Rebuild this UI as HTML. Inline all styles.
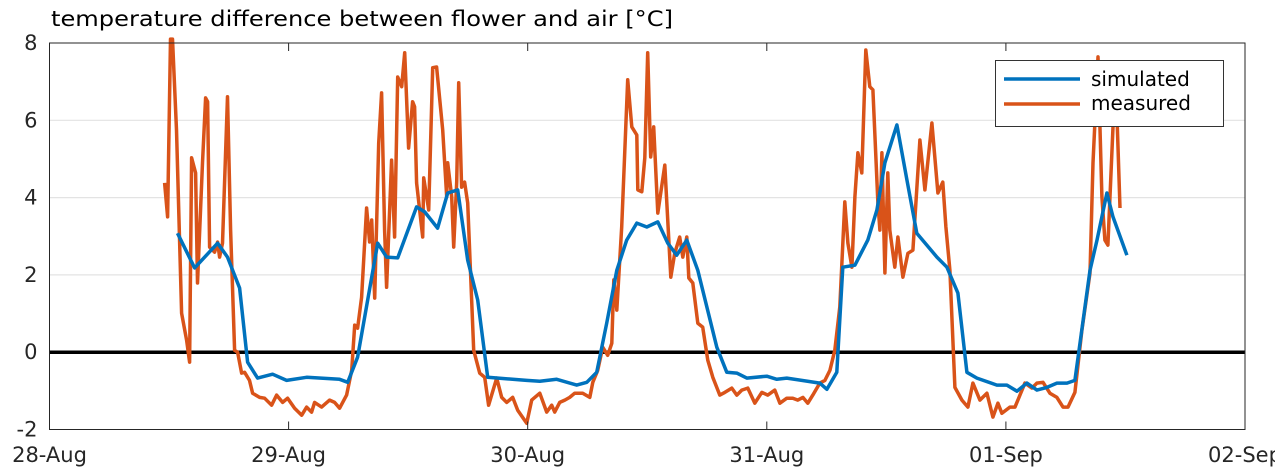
<!DOCTYPE html>
<html><head><meta charset="utf-8"><style>
html,body{margin:0;padding:0;background:#fff;}
svg{display:block;font-family:"DejaVu Sans","Liberation Sans",sans-serif;}
</style></head><body>
<svg id="chart" width="1275" height="474" viewBox="0 0 1275 474" xmlns="http://www.w3.org/2000/svg">
<text x="51" y="26" font-size="21" fill="#000" textLength="622" lengthAdjust="spacingAndGlyphs">temperature difference between flower and air [°C]</text>
<g id="grid"></g>
<g id="series"></g>
<g id="axes"></g>
<g>
<rect x="995.5" y="60.5" width="228" height="66" fill="#fff" stroke="#333" stroke-width="1"/>
<line x1="1004" y1="79" x2="1080" y2="79" stroke="#0072BD" stroke-width="3.5"/>
<text x="1091" y="86" font-size="20">simulated</text>
<line x1="1004" y1="104" x2="1080" y2="104" stroke="#D95319" stroke-width="3.5"/>
<text x="1091" y="110" font-size="20">measured</text>
</g>
</svg>
<script>
// hours since 28-Aug 00:00
const simHours=[12.85,14.56,16.87,17.87,19.08,19.88,20.89,22.39,23.80,25.81,29.12,29.93,30.93,32.94,33.84,34.95,36.85,37.66,38.96,39.97,40.97,41.98,42.98,43.98,47.90,49.21,50.91,52.92,53.93,54.93,55.93,56.94,57.94,58.95,59.95,61.06,62.06,62.96,63.97,65.07,66.98,67.98,68.99,69.99,72.00,73.00,74.01,77.32,78.03,79.03,79.63,80.84,82.14,83.05,83.85,85.06,86.06,87.06,89.07,90.08,91.18,92.09,93.09,95.10,96.10,97.11,98.11,99.11,100.12,101.12,102.13,102.93,104.44,105.14,106.14,106.75,108.15];
const simValues=[3.08,2.18,2.82,2.46,1.66,-0.26,-0.67,-0.57,-0.73,-0.65,-0.70,-0.78,-0.13,2.82,2.46,2.44,3.76,3.63,3.21,4.12,4.20,2.38,1.35,-0.65,-0.73,-0.75,-0.70,-0.85,-0.78,-0.52,0.75,2.12,2.90,3.34,3.24,3.37,2.82,2.51,2.90,2.12,0.13,-0.52,-0.54,-0.67,-0.62,-0.70,-0.67,-0.80,-0.96,-0.52,2.20,2.25,2.90,3.68,4.90,5.88,4.46,3.08,2.46,2.20,1.53,-0.52,-0.67,-0.85,-0.85,-1.01,-0.80,-0.98,-0.91,-0.80,-0.80,-0.73,2.12,2.90,4.12,3.50,2.51];
const measHours=[11.55,11.85,12.15,12.35,12.75,13.26,13.76,14.06,14.26,14.66,14.86,15.36,15.67,15.87,16.07,16.57,16.87,17.07,17.37,17.87,18.18,18.58,18.88,19.28,19.58,20.08,20.39,21.09,21.59,22.29,22.80,23.40,23.90,24.60,25.31,25.81,26.31,26.61,27.31,28.12,28.62,29.12,29.82,30.33,30.63,30.93,31.33,31.83,32.13,32.34,32.64,33.04,33.34,33.64,33.84,34.34,34.64,34.95,35.35,35.65,36.05,36.45,36.65,36.85,37.46,37.56,38.06,38.46,38.86,39.47,39.87,39.97,40.37,40.57,40.87,41.07,41.37,41.67,41.98,42.58,43.18,43.68,44.08,44.89,45.39,45.89,46.49,47.00,47.90,48.40,49.21,49.91,50.41,50.71,51.21,51.72,52.22,52.72,53.52,54.23,54.53,55.03,55.53,56.03,56.44,56.64,56.94,57.44,58.04,58.45,58.95,59.05,59.45,59.75,60.05,60.35,60.65,61.06,61.76,62.36,62.76,63.26,63.57,63.97,64.17,64.57,65.07,65.57,66.08,66.58,67.28,67.78,68.49,68.99,69.49,70.09,70.80,71.50,72.10,72.80,73.31,74.01,74.61,75.11,75.62,76.12,76.62,77.32,77.83,78.33,78.83,79.33,79.83,80.14,80.54,80.84,81.14,81.54,81.94,82.34,82.65,83.15,83.35,83.55,83.85,84.15,84.35,84.85,85.16,85.66,86.16,86.66,87.37,87.87,88.57,89.17,89.67,89.98,90.38,90.88,91.58,92.19,92.69,93.39,94.09,94.70,95.20,95.60,96.40,96.91,97.91,98.61,99.11,99.72,100.42,101.12,101.73,102.23,102.93,103.63,104.44,104.74,105.24,105.64,105.94,106.24,106.75,107.15,107.45];
const measValues=[4.38,3.50,8.1,8.1,5.75,1.01,0.31,-0.26,5.03,4.64,1.79,4.90,6.58,6.48,2.72,2.59,2.85,2.46,2.82,6.61,3.16,0.05,0,-0.54,-0.52,-0.73,-1.06,-1.17,-1.19,-1.37,-1.11,-1.30,-1.19,-1.45,-1.63,-1.42,-1.55,-1.30,-1.42,-1.24,-1.30,-1.45,-1.11,-0.47,0.70,0.62,1.42,3.73,2.85,3.42,1.40,5.41,6.71,3.16,1.68,4.97,2.98,7.12,6.87,7.75,5.28,6.48,6.35,4.38,2.98,4.51,3.68,7.36,7.38,5.75,4.02,4.90,4.02,2.72,4.40,6.97,4.27,4.40,3.86,0.05,-0.54,-0.65,-1.37,-0.67,-1.17,-1.30,-1.17,-1.50,-1.84,-1.24,-1.06,-1.55,-1.37,-1.55,-1.30,-1.24,-1.17,-1.06,-1.06,-1.17,-0.78,-0.47,0.13,-0.08,0.23,1.87,1.09,3.24,7.05,5.83,5.62,4.20,4.15,5.03,7.75,5.05,5.83,3.60,4.84,1.94,2.56,2.98,2.46,2.98,1.92,1.79,0.75,0.65,-0.21,-0.65,-1.11,-1.04,-0.93,-1.11,-0.98,-0.93,-1.32,-1.04,-1.11,-0.98,-1.32,-1.19,-1.19,-1.24,-1.17,-1.32,-1.11,-0.80,-0.73,-0.47,0.05,1.17,3.89,2.82,2.20,4.02,5.16,4.64,7.82,6.87,6.79,3.86,3.16,5.16,2.05,4.64,3.16,2.20,2.98,1.94,2.56,2.64,5.49,4.20,5.93,4.12,4.40,3.24,2.12,-0.91,-1.24,-1.42,-0.80,-1.24,-1.06,-1.68,-1.32,-1.58,-1.42,-1.42,-0.80,-0.93,-0.80,-0.78,-1.06,-1.17,-1.42,-1.42,-1.04,0.57,2.05,4.90,7.64,4.02,2.90,2.77,5.83,6.09,3.73];
const yTicks=[-2,0,2,4,6,8];
const xTickLabels=["28-Aug","29-Aug","30-Aug","31-Aug","01-Sep","02-Sep"];

const NS="http://www.w3.org/2000/svg";
const L=49.5,R=1245,T=43,B=429.5;
const xMin=0,xMax=120,yMin=-2,yMax=8;
const xs=h=>L+(h-xMin)/(xMax-xMin)*(R-L);
const ys=v=>B-(v-yMin)/(yMax-yMin)*(B-T);
function mk(tag,attrs,parent){const e=document.createElementNS(NS,tag);for(const k in attrs)e.setAttribute(k,attrs[k]);parent.appendChild(e);return e;}
const grid=document.getElementById('grid'),series=document.getElementById('series'),axes=document.getElementById('axes');

yTicks.forEach(v=>{
  const y=ys(v);
  if(v>yMin&&v<yMax){const g=mk('line',{x1:L,x2:R,y1:y,y2:y,stroke:'#e3e3e3','stroke-width':1.2},grid);
  
  }
  const t=mk('text',{x:L-12,y:y+7,'font-size':21,'text-anchor':'end',fill:'#262626'},axes);
  t.textContent=v;
  
  
});
xTickLabels.forEach((lab,i)=>{
  const x=xs(i*24);
  const a=mk('line',{x1:x,x2:x,y1:T,y2:T+8,stroke:'#262626','stroke-width':1},axes);
  
  
  const b=mk('line',{x1:x,x2:x,y1:B,y2:B-8,stroke:'#262626','stroke-width':1},axes);
  
  
  const t=mk('text',{x:x,y:462,'font-size':21,'text-anchor':'middle',fill:'#262626'},axes);
  t.textContent=lab;
  
  
});
const z=mk('line',{x1:L,x2:R,y1:ys(0),y2:ys(0),stroke:'#000','stroke-width':3.5},series);


function path(hs,vs,color,name){
  const d=hs.map((h,i)=>(i?'L':'M')+xs(h).toFixed(1)+','+ys(Math.min(vs[i],8.3)).toFixed(1)).join('');
  const p=mk('path',{d:d,fill:'none',stroke:color,'stroke-width':3.5,'stroke-linejoin':'round'},series);
  
  
}
path(measHours,measValues,'#D95319','measured-line');
path(simHours,simValues,'#0072BD','simulated-line');
const box=mk('rect',{x:L,y:T,width:R-L,height:B-T,fill:'none',stroke:'#262626','stroke-width':1},axes);


</script>
</body></html>
